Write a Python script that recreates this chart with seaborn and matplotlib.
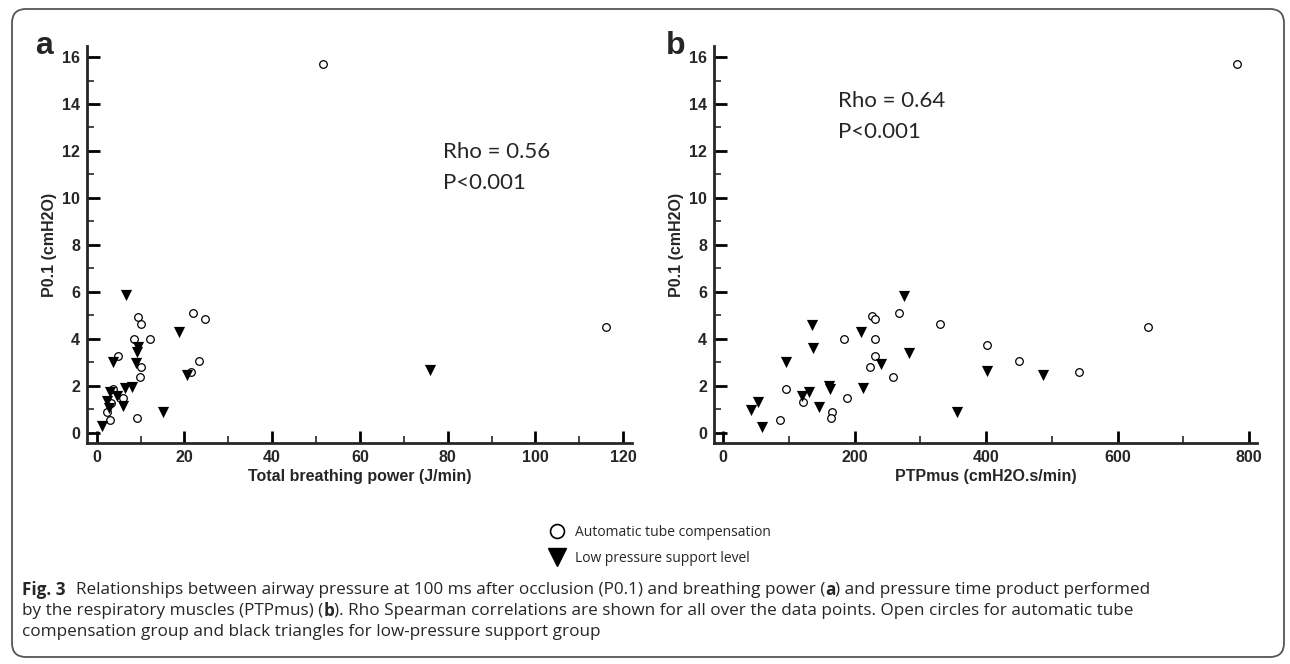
import pandas as pd
import seaborn as sns
import matplotlib.pyplot as plt
from matplotlib.lines import Line2D
from matplotlib.patches import FancyBboxPatch
from matplotlib.ticker import MultipleLocator

# --- Panel a: total breathing power (J/min) vs P0.1 (cmH2O) ---
atc_power = [9.5, 10.1, 22.0, 24.6, 8.5, 12.2, 4.9, 23.4, 10.0, 9.9, 21.5,
             3.8, 5.9, 3.3, 2.3, 3.0, 9.3, 51.5, 116.0]
atc_p01_a = [4.94, 4.62, 5.08, 4.85, 3.97, 3.97, 3.26, 3.05, 2.78, 2.38, 2.57,
             1.86, 1.48, 1.28, 0.89, 0.54, 0.64, 15.7, 4.5]
lps_power = [6.8, 18.8, 3.8, 9.35, 9.1, 9.0, 20.5, 8.0, 6.5, 3.0, 4.6,
             2.4, 5.9, 2.9, 15.1, 1.3, 76.0]
lps_p01_a = [5.86, 4.30, 3.02, 3.66, 3.45, 2.95, 2.45, 1.96, 1.89, 1.74, 1.56,
             1.36, 1.13, 1.04, 0.89, 0.30, 2.65]

# --- Panel b: PTPmus (cmH2O.s/min) vs P0.1 (cmH2O) ---
atc_ptp = [226.9, 230.5, 268, 330, 184.3, 230.5, 230.5, 222.8, 258.9, 401,
           450, 541.7, 646, 95, 187.8, 121.8, 166, 164.5, 86.8, 781]
atc_p01_b = [4.96, 4.84, 5.08, 4.64, 3.97, 3.97, 3.26, 2.78, 2.38, 3.72,
             3.05, 2.58, 4.52, 1.86, 1.46, 1.29, 0.89, 0.64, 0.54, 15.7]
lps_ptp = [275.6, 135.5, 137, 95.4, 209, 240.6, 283, 212, 161, 162.4,
           130.5, 119.3, 146, 52.3, 41.6, 59.4, 356, 402, 486]
lps_p01_b = [5.82, 4.58, 3.62, 3.01, 4.27, 2.91, 3.40, 1.89, 1.99, 1.84,
             1.72, 1.56, 1.11, 1.32, 0.96, 0.26, 0.87, 2.64, 2.47]

group_labels = ["Automatic tube compensation", "Low pressure support level"]
y_label = "P0.1 (cmH2O)"

sns.set_style("ticks")
plt.rcParams['font.family'] = ['Liberation Sans', 'DejaVu Sans']

W, H = 1290, 664
fig = plt.figure(figsize=(W / 100, H / 100), dpi=100)

# rounded outer frame
fig.patches.append(FancyBboxPatch((0.12, 0.07), 12.72, 6.48,
                                  boxstyle="round,pad=0,rounding_size=0.14",
                                  transform=fig.dpi_scale_trans, fill=False,
                                  edgecolor="#555555", linewidth=1.3))

ax_a = fig.add_axes([87 / W, 1 - 443 / H, (632 - 87) / W, (443 - 46) / H])
ax_b = fig.add_axes([714 / W, 1 - 443 / H, (1257 - 714) / W, (443 - 46) / H])


def draw_panel(ax, atc_x, atc_y, lps_x, lps_y, xlim, xmajor, xminor, xlabel):
    df_atc = pd.DataFrame({"x": atc_x, "y": atc_y})
    df_lps = pd.DataFrame({"x": lps_x, "y": lps_y})
    sns.scatterplot(data=df_atc, x="x", y="y", ax=ax, marker="o", s=30,
                    facecolor="white", edgecolor="black", linewidth=0.9, zorder=3)
    sns.scatterplot(data=df_lps, x="x", y="y", ax=ax, marker="v", s=65,
                    color="black", edgecolor="black", linewidth=0, zorder=3)
    ax.set_xlim(*xlim)
    ax.set_ylim(-0.44, 16.47)
    ax.xaxis.set_major_locator(MultipleLocator(xmajor))
    ax.xaxis.set_minor_locator(MultipleLocator(xminor))
    ax.yaxis.set_major_locator(MultipleLocator(2))
    ax.yaxis.set_minor_locator(MultipleLocator(1))
    ax.set_xticks([t for t in ax.get_xticks() if 0 <= t <= xlim[1]])
    ax.set_yticks([t for t in range(0, 17, 2)])
    ax.tick_params(which="major", direction="in", length=9, width=2,
                   labelsize=11.5, pad=5, color="black")
    ax.tick_params(which="minor", direction="in", length=5, width=1.2)
    for s in ["top", "right"]:
        ax.spines[s].set_visible(False)
    for s in ["left", "bottom"]:
        ax.spines[s].set_linewidth(2)
    for lab in ax.get_xticklabels() + ax.get_yticklabels():
        lab.set_fontweight("bold")
    ax.set_xlabel(xlabel, fontsize=11.5, fontweight="bold", labelpad=3)
    ax.set_ylabel(y_label, fontsize=11.5, fontweight="bold", labelpad=4)
    ax.set_facecolor("none")


draw_panel(ax_a, atc_power, atc_p01_a, lps_power, lps_p01_a,
           (-2.2, 122), 20, 10, "Total breathing power (J/min)")
draw_panel(ax_b, atc_ptp, atc_p01_b, lps_ptp, lps_p01_b,
           (-14, 812), 200, 100, "PTPmus (cmH2O.s/min)")

ax_a.text(79, 11.96, "Rho = 0.56", fontsize=16, family="Lato", va="center")
ax_a.text(79, 10.64, "P<0.001", fontsize=16, family="Lato", va="center")
ax_b.text(174.7, 14.13, "Rho = 0.64", fontsize=16, family="Lato", va="center")
ax_b.text(174.7, 12.81, "P<0.001", fontsize=16, family="Lato", va="center")

fig.text(44 / W, 1 - 54 / H, "a", fontsize=23, fontweight="bold", ha="center", va="baseline")
fig.text(676 / W, 1 - 54 / H, "b", fontsize=23, fontweight="bold", ha="center", va="baseline")

# legend
handles = [Line2D([], [], marker="o", ls="none", mfc="white", mec="black", ms=10, mew=1.2),
           Line2D([], [], marker="v", ls="none", color="black", ms=13)]
fig.legend(handles, group_labels, loc="upper left", bbox_to_anchor=(550 / W, 1 - 525 / H),
           frameon=False, handlelength=1, handletextpad=0.8, borderpad=0,
           borderaxespad=0, labelspacing=0.8, prop={"family": "Open Sans", "size": 10})

# caption with mixed bold segments
cap_font = "Open Sans"
cap_size = 12.35
renderer = fig.canvas.get_renderer()


def draw_line(y, segments):
    x = 22
    for text, weight, gap in segments:
        x += gap
        t = fig.text(x / W, 1 - y / H, text, fontsize=cap_size, family=cap_font,
                     fontweight=weight, va="center", ha="left")
        bb = t.get_window_extent(renderer)
        x = bb.x1


draw_line(590, [("Fig. 3", "bold", 0),
                ("Relationships between airway pressure at 100 ms after occlusion (P0.1) and breathing power (", "normal", 10),
                ("a", "bold", 0),
                (") and pressure time product performed", "normal", 0)])
draw_line(611, [("by the respiratory muscles (PTPmus) (", "normal", 0),
                ("b", "bold", 0),
                ("). Rho Spearman correlations are shown for all over the data points. Open circles for automatic tube", "normal", 0)])
draw_line(632, [("compensation group and black triangles for low-pressure support group", "normal", 0)])

fig.savefig("out.png", dpi=100)
